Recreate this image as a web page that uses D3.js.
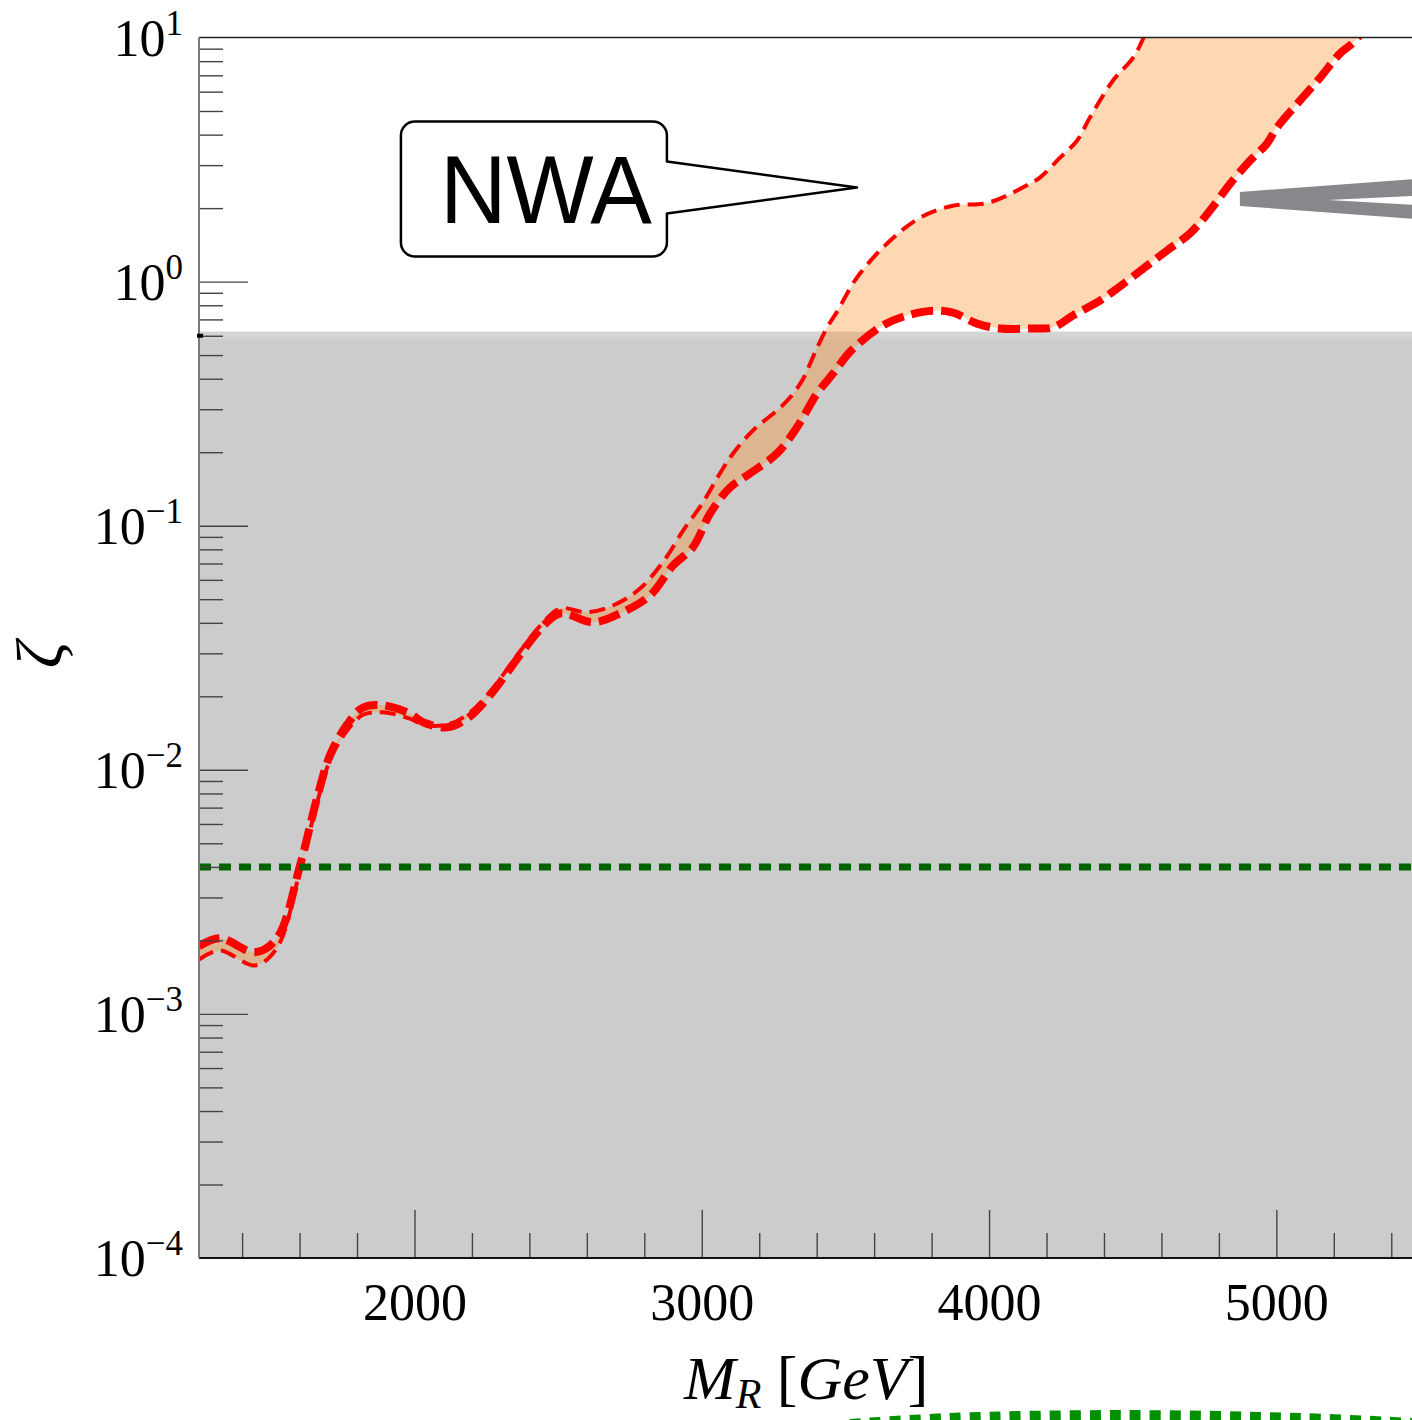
<!DOCTYPE html>
<html>
<head>
<meta charset="utf-8">
<script src="https://cdn.jsdelivr.net/npm/d3@7"></script>
<style>
  html, body { margin: 0; padding: 0; background: #fff; }
  svg { display: block; }
</style>
</head>
<body>
<svg id="chart" width="1412" height="1420"></svg>
<script>
// mass axis (GeV)
const massDomain = [1250, 5500];
const massMajor = [2000, 3000, 4000, 5000];
// zeta axis (log)
const zetaDomain = [1e-4, 10];
const zetaExponents = [1, 0, -1, -2, -3, -4];

// excluded region (grey) and the green limit
const greyTop = [0.624, 0.58];
const greenLimit = 0.004;

// thin dashed curve [M_R, zeta]
const upperCurve = [
  [1250, 0.00167], [1323, 0.00182], [1445, 0.00158], [1521, 0.00186], [1602, 0.00389],
  [1661, 0.00733], [1706, 0.01096], [1765, 0.01445], [1821, 0.0168], [1890, 0.0172],
  [1984, 0.0162], [2030, 0.0153], [2113, 0.0153], [2183, 0.0168], [2263, 0.0209],
  [2367, 0.0305], [2437, 0.0389], [2507, 0.0458], [2600, 0.0442], [2691, 0.0471],
  [2785, 0.0553], [2870, 0.0724], [2935, 0.0955], [3004, 0.1245], [3063, 0.1637],
  [3109, 0.1977], [3178, 0.2455], [3262, 0.2965], [3307, 0.335], [3352, 0.398],
  [3390, 0.50], [3436, 0.6486], [3470, 0.75], [3540, 1.038], [3645, 1.432],
  [3760, 1.828], [3874, 2.046], [3979, 2.084], [4038, 2.188], [4142, 2.518],
  [4177, 2.667], [4247, 3.221], [4306, 3.776], [4351, 4.699], [4431, 6.653],
  [4501, 8.26], [4536, 9.886], [4600, 15.8]
];
// thick dashed curve [M_R, zeta]
const lowerCurve = [
  [1250, 0.00189], [1323, 0.00204], [1445, 0.00179], [1521, 0.00204], [1602, 0.00407],
  [1661, 0.00767], [1706, 0.01148], [1765, 0.0153], [1821, 0.0180], [1890, 0.01837],
  [1984, 0.0170], [2030, 0.01567], [2113, 0.01493], [2183, 0.0162], [2263, 0.0202],
  [2367, 0.0295], [2437, 0.0376], [2507, 0.0437], [2621, 0.0402], [2715, 0.0437],
  [2820, 0.0518], [2900, 0.0687], [2969, 0.0815], [3029, 0.1122], [3098, 0.1432],
  [3168, 0.1637], [3262, 0.1977], [3331, 0.2523], [3401, 0.3475], [3457, 0.4198],
  [3520, 0.5212], [3630, 0.6607], [3714, 0.7261], [3805, 0.7603], [3874, 0.7464],
  [3958, 0.673], [4038, 0.6427], [4153, 0.6427], [4222, 0.6486], [4292, 0.7261],
  [4386, 0.8356], [4445, 0.9354], [4500, 1.047], [4619, 1.340], [4699, 1.574],
  [4769, 1.954], [4839, 2.518], [4908, 3.126], [4967, 3.673], [5002, 4.276],
  [5082, 5.508], [5152, 6.839], [5221, 8.590], [5267, 9.528], [5350, 12.59]
];
// green dotted arc below the frame
const greenArc = [
  [3516, 2.05e-5], [3864, 2.17e-5], [4456, 2.23e-5], [5082, 2.17e-5], [5472, 2.07e-5]
];
// callout anchors [M_R, zeta]
const nwaAt = [3540, 2.43];
const greyArrowAt = [4873, 2.18];

const svg = d3.select('#chart');
const plotL = 199, plotR = 1420, plotT = 37.5, plotB = 1258;
const serif = '"Liberation Serif", "Times New Roman", serif';

const x = d3.scaleLinear().domain(massDomain).range([plotL, plotR]);
const y = d3.scaleLog().domain(zetaDomain).range([plotB, plotT]);

svg.append('defs').append('clipPath').attr('id', 'plotClip')
  .append('rect').attr('x', plotL).attr('y', plotT)
  .attr('width', plotR - plotL).attr('height', plotB - plotT);

const plot = svg.append('g').attr('clip-path', 'url(#plotClip)');

// grey excluded region (two layers)
plot.append('rect')
  .attr('x', plotL).attr('y', y(greyTop[0]))
  .attr('width', plotR - plotL).attr('height', plotB - y(greyTop[0]))
  .attr('fill', '#d4d4d4');
plot.append('rect')
  .attr('x', plotL).attr('y', y(greyTop[1]))
  .attr('width', plotR - plotL).attr('height', plotB - y(greyTop[1]))
  .attr('fill', '#cccccc');

const line = d3.line()
  .x(d => x(d[0]))
  .y(d => y(d[1]))
  .curve(d3.curveCatmullRom.alpha(0.5));

// band between the two curves
const bandPath = line(upperCurve) + line(lowerCurve.slice().reverse()).replace(/^M/, 'L') + 'Z';
plot.append('path')
  .attr('d', bandPath)
  .attr('fill', 'rgb(249,138,24)')
  .attr('fill-opacity', 0.333)
  .attr('stroke', 'none');

plot.append('path')
  .attr('d', line(upperCurve))
  .attr('fill', 'none')
  .attr('stroke', '#ff0000')
  .attr('stroke-width', 4)
  .attr('stroke-dasharray', '16,8');

plot.append('path')
  .attr('d', line(lowerCurve))
  .attr('fill', 'none')
  .attr('stroke', '#ff0000')
  .attr('stroke-width', 8)
  .attr('stroke-dasharray', '22,8');

// green limit
plot.append('line')
  .attr('x1', plotL).attr('x2', plotR)
  .attr('y1', y(greenLimit)).attr('y2', y(greenLimit))
  .attr('stroke', '#006400')
  .attr('stroke-width', 7)
  .attr('stroke-dasharray', '12,8');

// ticks (inside)
const yMinor = [];
for (let n = -4; n <= 0; n++) {
  for (let k = 2; k <= 9; k++) yMinor.push(k * Math.pow(10, n));
}
const xMinor = d3.range(1400, 5500, 200).filter(v => v % 1000 !== 0);

const yAxisMajor = svg.append('g')
  .attr('transform', `translate(${plotL},0)`)
  .call(d3.axisLeft(y).tickValues(zetaExponents.map(e => Math.pow(10, e)).filter(v => v > 1e-4 && v < 10))
    .tickSize(-49).tickFormat(''));
const yAxisMinor = svg.append('g')
  .attr('transform', `translate(${plotL},0)`)
  .call(d3.axisLeft(y).tickValues(yMinor).tickSize(-24).tickFormat(''));
const xAxisMajor = svg.append('g')
  .attr('transform', `translate(0,${plotB})`)
  .call(d3.axisBottom(x).tickValues(massMajor).tickSize(-48).tickPadding(25).tickFormat(d3.format('d')));
const xAxisMinor = svg.append('g')
  .attr('transform', `translate(0,${plotB})`)
  .call(d3.axisBottom(x).tickValues(xMinor).tickSize(-25).tickFormat(''));

[yAxisMajor, yAxisMinor, xAxisMajor, xAxisMinor].forEach(g => {
  g.select('.domain').remove();
  g.selectAll('.tick line').attr('stroke', '#444').attr('stroke-width', 1.4);
});
xAxisMajor.selectAll('text')
  .attr('font-family', serif)
  .attr('font-size', 52)
  .attr('fill', '#000');

// frame
svg.append('line').attr('x1', plotL).attr('x2', 1412).attr('y1', plotT).attr('y2', plotT)
  .attr('stroke', '#222').attr('stroke-width', 1.5);
svg.append('line').attr('x1', plotL).attr('x2', 1412).attr('y1', plotB).attr('y2', plotB)
  .attr('stroke', '#111').attr('stroke-width', 2);
svg.append('line').attr('x1', plotL).attr('x2', plotL).attr('y1', plotT).attr('y2', plotB)
  .attr('stroke', '#777').attr('stroke-width', 2);
svg.append('rect').attr('x', plotL - 2).attr('y', y(0.6) - 2).attr('width', 6).attr('height', 4)
  .attr('fill', '#000');

// y tick labels 10^n
const yLab = svg.append('g')
  .attr('font-family', serif)
  .attr('fill', '#000');
yLab.selectAll('text')
  .data(zetaExponents)
  .join('text')
  .attr('x', 183)
  .attr('y', d => y(Math.pow(10, d)) + 18)
  .attr('text-anchor', 'end')
  .attr('font-size', 52)
  .each(function(d) {
    const t = d3.select(this);
    t.append('tspan').text('10');
    t.append('tspan').attr('dy', -21).attr('font-size', 35)
      .text(String(d).replace('-', '\u2212'));
  });

// axis titles
const xTitle = svg.append('text')
  .attr('x', 684).attr('y', 1399)
  .attr('font-family', serif)
  .attr('font-size', 62)
  .attr('fill', '#000');
xTitle.append('tspan').attr('font-style', 'italic').text('M');
xTitle.append('tspan').attr('font-style', 'italic').attr('font-size', 42).attr('dy', 9).text('R');
xTitle.append('tspan').attr('dy', -9).text(' [');
xTitle.append('tspan').attr('font-style', 'italic').text('GeV');
xTitle.append('tspan').text(']');

svg.append('text')
  .attr('transform', 'translate(62,655) rotate(-90)')
  .attr('text-anchor', 'middle')
  .attr('font-family', serif)
  .attr('font-style', 'italic')
  .attr('font-size', 66)
  .text('\u03b6');

// NWA callout
const tipX = x(nwaAt[0]), tipY = y(nwaAt[1]);
const bx0 = tipX - 456, bx1 = tipX - 190, by0 = tipY - 66, by1 = tipY + 69, r = 14;
const callout = d3.path();
callout.moveTo(bx0 + r, by0);
callout.lineTo(bx1 - r, by0);
callout.arcTo(bx1, by0, bx1, by0 + r, r);
callout.lineTo(bx1, tipY - 26);
callout.lineTo(tipX, tipY);
callout.lineTo(bx1, tipY + 26);
callout.lineTo(bx1, by1 - r);
callout.arcTo(bx1, by1, bx1 - r, by1, r);
callout.lineTo(bx0 + r, by1);
callout.arcTo(bx0, by1, bx0, by1 - r, r);
callout.lineTo(bx0, by0 + r);
callout.arcTo(bx0, by0, bx0 + r, by0, r);
callout.closePath();
svg.append('path')
  .attr('d', callout.toString())
  .attr('fill', '#fff')
  .attr('stroke', '#000')
  .attr('stroke-width', 2.5)
  .attr('stroke-linejoin', 'round');
svg.append('text')
  .attr('x', (bx0 + bx1) / 2 + 12)
  .attr('y', tipY + 36)
  .attr('text-anchor', 'middle')
  .attr('font-family', '"Liberation Sans", Arial, sans-serif')
  .attr('font-size', 96)
  .attr('textLength', 212)
  .attr('lengthAdjust', 'spacingAndGlyphs')
  .text('NWA');

// grey arrow head at the right edge
const ax = x(greyArrowAt[0]), ay = y(greyArrowAt[1]);
svg.append('path')
  .attr('d', d3.line()([
    [ax, ay - 7], [ax + 175, ay - 20], [ax + 175, ay - 3], [ax + 88, ay + 1],
    [ax + 175, ay + 6], [ax + 175, ay + 20], [ax, ay + 7]
  ]) + 'Z')
  .attr('fill', '#86888b');

// green dotted arc (partly outside the picture)
svg.append('path')
  .attr('d', d3.line().x(d => x(d[0])).y(d => y(d[1])).curve(d3.curveCatmullRom)(greenArc))
  .attr('fill', 'none')
  .attr('stroke', '#009000')
  .attr('stroke-width', 14)
  .attr('stroke-dasharray', '11,9');
</script>
</body>
</html>
